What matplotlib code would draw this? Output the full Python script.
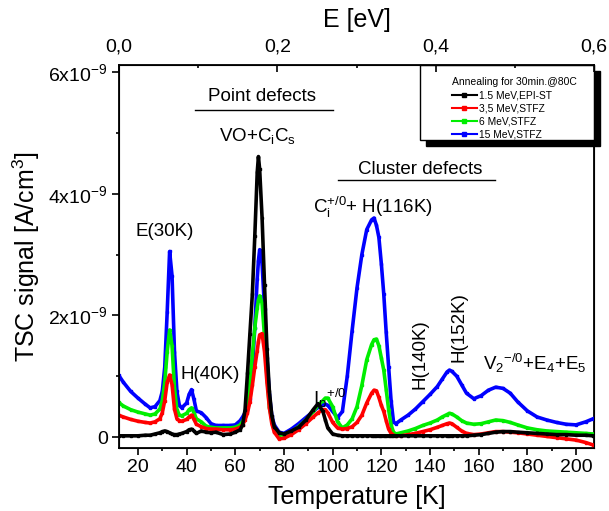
import matplotlib
matplotlib.use("Agg")
import matplotlib.pyplot as plt
from matplotlib.lines import Line2D
from matplotlib.patches import Rectangle
from matplotlib.ticker import MultipleLocator, FixedLocator, FixedFormatter
import numpy as np

plt.rcParams['font.family'] = ['Liberation Sans', 'DejaVu Sans']
plt.rcParams['mathtext.fontset'] = 'custom'
plt.rcParams['mathtext.rm'] = 'Liberation Sans'
plt.rcParams['mathtext.it'] = 'Liberation Sans:italic'
plt.rcParams['mathtext.bf'] = 'Liberation Sans:bold'

# temperature grid [K]
temp_K = [12, 14, 17, 20, 23, 25, 27, 29, 30, 31,
          32, 33, 34, 35, 36, 37, 38, 40, 41, 42,
          43, 44, 46, 48, 50, 52, 55, 58, 60, 62,
          63, 64, 65, 66, 67, 68, 69, 69.5, 70, 71,
          72, 73, 74, 75, 76, 78, 80, 83, 86, 89,
          92, 94, 96, 97, 98, 100, 102, 104, 106, 108,
          110, 112, 114, 116, 117, 118, 119, 120, 121, 122,
          123, 124, 125, 126, 128, 131, 134, 137, 140, 143,
          145, 147, 148, 149, 151, 153, 155, 158, 161, 164,
          167, 170, 173, 176, 180, 184, 188, 192, 196, 200,
          204, 207]

# TSC signal in units of 1e-9 A/cm3
tsc_15MeV = [1.02, 0.90, 0.75, 0.64, 0.54, 0.48, 0.50, 0.60, 0.75, 1.15,
             2.05, 3.05, 2.65, 1.40, 0.75, 0.52, 0.48, 0.56, 0.70, 0.78,
             0.62, 0.43, 0.40, 0.32, 0.22, 0.19, 0.19, 0.19, 0.20, 0.27,
             0.33, 0.40, 0.45, 0.62, 1.10, 1.80, 2.60, 2.90, 3.08, 2.85,
             2.10, 1.30, 0.70, 0.35, 0.20, 0.08, 0.06, 0.13, 0.22, 0.32,
             0.42, 0.49, 0.53, 0.54, 0.52, 0.42, 0.32, 0.42, 1.00, 1.75,
             2.45, 3.00, 3.41, 3.57, 3.60, 3.48, 3.28, 2.85, 2.35, 1.72,
             1.15, 0.60, 0.25, 0.22, 0.28, 0.36, 0.46, 0.58, 0.70, 0.83,
             0.95, 1.07, 1.10, 1.08, 1.00, 0.86, 0.72, 0.63, 0.68, 0.77,
             0.82, 0.80, 0.72, 0.58, 0.43, 0.33, 0.28, 0.24, 0.21, 0.20,
             0.25, 0.30]

tsc_6MeV = [0.57, 0.51, 0.45, 0.41, 0.38, 0.36, 0.38, 0.46, 0.60, 0.90,
            1.40, 1.76, 1.50, 0.80, 0.45, 0.36, 0.35, 0.39, 0.45, 0.48,
            0.40, 0.30, 0.25, 0.18, 0.16, 0.15, 0.15, 0.15, 0.16, 0.20,
            0.26, 0.35, 0.55, 0.90, 1.35, 1.80, 2.12, 2.25, 2.32, 2.20,
            1.65, 1.00, 0.50, 0.28, 0.15, 0.04, 0.03, 0.08, 0.17, 0.28,
            0.42, 0.52, 0.60, 0.64, 0.64, 0.50, 0.25, 0.15, 0.20, 0.30,
            0.50, 0.85, 1.27, 1.52, 1.60, 1.61, 1.50, 1.30, 1.10, 0.78,
            0.45, 0.20, 0.08, 0.05, 0.07, 0.10, 0.14, 0.19, 0.23, 0.28,
            0.33, 0.37, 0.39, 0.38, 0.33, 0.27, 0.23, 0.21, 0.22, 0.25,
            0.28, 0.27, 0.24, 0.20, 0.15, 0.12, 0.10, 0.09, 0.08, 0.07,
            0.06, 0.05]

tsc_3_5MeV = [0.36, 0.33, 0.29, 0.26, 0.24, 0.23, 0.25, 0.30, 0.40, 0.60,
              0.90, 1.02, 0.86, 0.46, 0.30, 0.27, 0.26, 0.29, 0.33, 0.36,
              0.29, 0.21, 0.17, 0.14, 0.13, 0.13, 0.12, 0.12, 0.13, 0.16,
              0.20, 0.28, 0.40, 0.58, 0.85, 1.15, 1.42, 1.57, 1.68, 1.70,
              1.40, 0.90, 0.48, 0.22, 0.08, -0.03, -0.02, 0.04, 0.12, 0.22,
              0.33, 0.40, 0.45, 0.45, 0.40, 0.24, 0.15, 0.13, 0.14, 0.17,
              0.24, 0.36, 0.56, 0.72, 0.77, 0.76, 0.65, 0.52, 0.42, 0.27,
              0.13, 0.06, 0.03, 0.02, 0.02, 0.04, 0.06, 0.09, 0.12, 0.16,
              0.19, 0.22, 0.23, 0.22, 0.16, 0.10, 0.06, 0.04, 0.05, 0.07,
              0.09, 0.09, 0.08, 0.07, 0.05, 0.03, 0.01, -0.01, -0.03, -0.05,
              -0.09, -0.13]

tsc_1_5MeV = [0.02, 0.02, 0.02, 0.02, 0.03, 0.03, 0.05, 0.07, 0.09, 0.10,
              0.09, 0.07, 0.05, 0.04, 0.04, 0.05, 0.06, 0.09, 0.12, 0.13,
              0.10, 0.06, 0.10, 0.08, 0.07, 0.08, 0.04, 0.05, 0.08, 0.12,
              0.20, 0.45, 1.05, 1.70, 2.35, 3.30, 4.35, 4.61, 4.40, 3.60,
              2.50, 1.45, 0.75, 0.35, 0.17, 0.07, 0.05, 0.10, 0.16, 0.28,
              0.45, 0.55, 0.42, 0.28, 0.15, 0.05, 0.03, 0.02, 0.02, 0.02,
              0.02, 0.02, 0.02, 0.02, 0.02, 0.02, 0.02, 0.02, 0.02, 0.02,
              0.02, 0.02, 0.02, 0.02, 0.02, 0.02, 0.02, 0.02, 0.02, 0.02,
              0.02, 0.02, 0.02, 0.02, 0.02, 0.02, 0.02, 0.03, 0.04, 0.06,
              0.08, 0.09, 0.09, 0.08, 0.07, 0.06, 0.05, 0.04, 0.04, 0.03,
              0.03, 0.02]

labels = ['1.5 MeV,EPI-ST', '3,5 MeV,STFZ', '6 MeV,STFZ', '15 MeV,STFZ']
colors = ['black', 'red', '#00ee00', 'blue']
series = [tsc_1_5MeV, tsc_3_5MeV, tsc_6MeV, tsc_15MeV]
legend_title = 'Annealing for 30min.@80C'

fig = plt.figure(figsize=(6.09, 5.11), dpi=100)
ax = fig.add_axes([0.1954, 0.1233, 0.78, 0.7495])

T = np.array(temp_K)
# draw blue first so black ends on top
for i in [3, 2, 1, 0]:
    ax.plot(T, np.array(series[i]) * 1e-9, color=colors[i], lw=2.6,
            marker='s', ms=1.9, zorder=3 + (3 - i) * 0.1)

ax.set_xlim(12.2, 207.4)
ax.set_ylim(-0.18e-9, 6.115e-9)

ax.xaxis.set_major_locator(MultipleLocator(20))
ax.xaxis.set_minor_locator(MultipleLocator(10))
ax.yaxis.set_major_locator(FixedLocator([0, 2e-9, 4e-9, 6e-9]))
ax.yaxis.set_major_formatter(FixedFormatter(
    ['0', r'2x10$^{\mathrm{-9}}$', r'4x10$^{\mathrm{-9}}$', r'6x10$^{\mathrm{-9}}$']))
ax.yaxis.set_minor_locator(FixedLocator([1e-9, 3e-9, 5e-9]))
ax.tick_params(which='both', direction='out', top=False, right=False, width=1.2)
ax.tick_params(which='major', length=5, pad=3, labelsize=14)
ax.tick_params(which='minor', length=2.5)
for s in ax.spines.values():
    s.set_linewidth(1.3)

ax.set_xlabel('Temperature [K]', fontsize=18, va='center')
ax.xaxis.set_label_coords(0.5, -0.128)
ax.set_ylabel('TSC signal [A/cm$^{\\mathrm{3}}$]', fontsize=18, va='center')
ax.yaxis.set_label_coords(-0.196, 0.5)

# top energy axis
ax2 = ax.twiny()
ax2.set_xlim(0, 0.6)
ax2.xaxis.set_major_locator(FixedLocator([0, 0.2, 0.4, 0.6]))
ax2.xaxis.set_major_formatter(FixedFormatter(['0,0', '0,2', '0,4', '0,6']))
ax2.xaxis.set_minor_locator(FixedLocator([0.1, 0.3, 0.5]))
ax2.tick_params(which='both', direction='in', width=1.2)
ax2.tick_params(which='major', length=5, pad=7, labelsize=14)
ax2.tick_params(which='minor', length=2.5)
ax2.set_xlabel('E [eV]', fontsize=18, va='center')
ax2.xaxis.set_label_coords(0.5, 1.117)

# annotations
fs = 13.5
kw = dict(fontsize=fs, zorder=10)
ax.text(71.0, 5.6e-9, 'Point defects', ha='center', va='center', **kw)
ax.plot([43.4, 100.2], [5.38e-9, 5.38e-9], color='k', lw=1.0)
ax.text(69.1, 4.86e-9, r'VO+C$_{\mathrm{i}}$C$_{\mathrm{s}}$',
        ha='center', va='baseline', **kw)
ax.text(135.9, 4.4e-9, 'Cluster defects', ha='center', va='center', **kw)
ax.plot([102.2, 166.7], [4.22e-9, 4.22e-9], color='k', lw=1.0)
ax.text(116.6, 3.69e-9, r'C$_{\mathrm{i}}^{\mathrm{+/0}}$+ H(116K)',
        ha='center', va='baseline', **kw)
ax.text(31.1, 3.38e-9, 'E(30K)', ha='center', va='center', **kw)
ax.text(49.6, 1.03e-9, 'H(40K)', ha='center', va='center', **kw)
ax.text(92.0, 0.52e-9, r'I$_{\mathrm{p}}$${}^{\mathrm{+/0}}$',
        ha='left', va='baseline', **kw)
ax.text(135.9, 1.36e-9, 'H(140K)', ha='center', va='center', rotation=90, **kw)
ax.text(152.0, 1.8e-9, 'H(152K)', ha='center', va='center', rotation=90, **kw)
ax.text(183.2, 1.11e-9,
        r'V$_{\mathrm{2}}$${}^{\mathrm{-/0}}$+E$_{\mathrm{4}}$+E$_{\mathrm{5}}$',
        ha='center', va='baseline', **kw)

# legend box with a solid shadow
bx, by, bw, bh = 0.6337, 0.8042, 0.3663, 0.1958
ax.add_patch(Rectangle((bx + 0.0126, by - 0.0157), bw, bh, transform=ax.transAxes,
                       facecolor='black', edgecolor='black', clip_on=False, zorder=11))
ax.add_patch(Rectangle((bx, by), bw, bh, transform=ax.transAxes,
                       facecolor='white', edgecolor='black', lw=1.0,
                       clip_on=False, zorder=11.1))
handles = [Line2D([], [], color=c, lw=1.5, marker='s', ms=2.5) for c in colors]
leg = ax.legend(handles, labels, title=legend_title, loc='upper left',
                bbox_to_anchor=(0.690, 0.981), frameon=False, fontsize=7.4,
                title_fontsize=7.5, alignment='left', borderpad=0,
                handlelength=2.4, handletextpad=0.2, labelspacing=0.3,
                numpoints=1)
leg.set_zorder(12)

fig.savefig('out.png', dpi=100)
